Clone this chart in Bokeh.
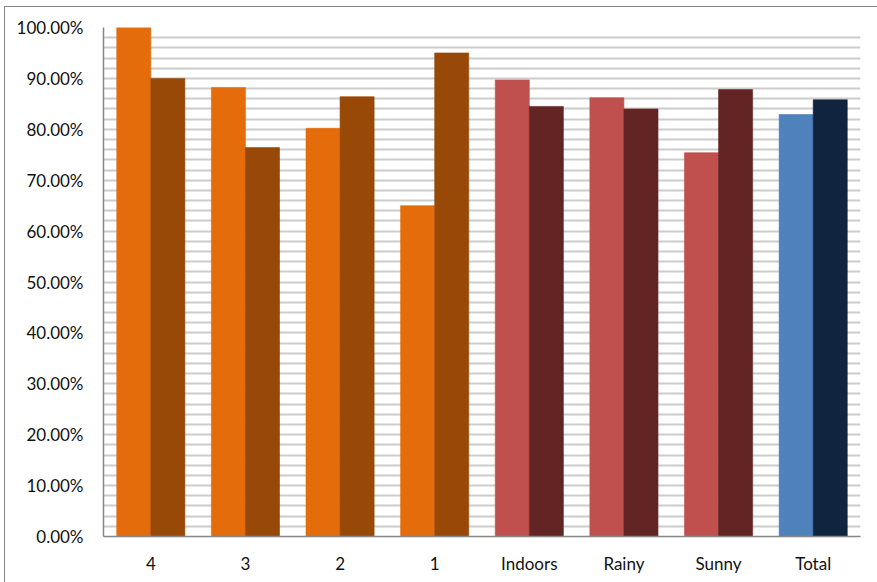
from bokeh.plotting import figure
from bokeh.models import FactorRange, Range1d, ColumnDataSource, FixedTicker, NumeralTickFormatter
from bokeh.transform import dodge
from bokeh.embed import file_html
from bokeh.resources import INLINE

categories = ["4", "3", "2", "1", "Indoors", "Rainy", "Sunny", "Total"]
series_a = [1.000, 0.882, 0.802, 0.650, 0.897, 0.862, 0.754, 0.829]
series_b = [0.900, 0.764, 0.864, 0.950, 0.845, 0.840, 0.878, 0.858]
colors_a = ["#E46C0A", "#E46C0A", "#E46C0A", "#E46C0A", "#C0504D", "#C0504D", "#C0504D", "#4F81BD"]
colors_b = ["#984807", "#984807", "#984807", "#984807", "#632523", "#632523", "#632523", "#10243F"]

src = ColumnDataSource(dict(cat=categories, a=series_a, b=series_b, ca=colors_a, cb=colors_b))

p = figure(width=873, height=576, x_range=FactorRange(factors=categories, range_padding=0),
           y_range=Range1d(0, 1.0), output_backend="svg", toolbar_location=None,
           min_border_left=98, min_border_right=18, min_border_top=20, min_border_bottom=47)
p.margin = (6, 0, 0, 4)
p.styles = {"border-left": "1px solid #868686", "border-top": "1px solid #868686"}

p.vbar(x=dodge("cat", -0.18, range=p.x_range), top="a", width=0.36, source=src,
       fill_color="ca", line_color="ca", line_alpha=0.6)
p.vbar(x=dodge("cat", 0.18, range=p.x_range), top="b", width=0.36, source=src,
       fill_color="cb", line_color="cb", line_alpha=0.6)

p.outline_line_color = None
p.xgrid.grid_line_color = None
p.ygrid.ticker = FixedTicker(ticks=[i * 0.02 for i in range(1, 51)])
p.ygrid.grid_line_color = "#cccccc"
p.ygrid.grid_line_width = 2
p.ygrid.level = "underlay"

p.yaxis.ticker = FixedTicker(ticks=[i * 0.1 for i in range(11)])
p.yaxis.formatter = NumeralTickFormatter(format="0.00%")
for ax in (p.xaxis[0], p.yaxis[0]):
    ax.axis_line_color = "#868686"
    ax.axis_line_width = 1.5
    ax.major_tick_line_color = None
    ax.minor_tick_line_color = None
    ax.major_label_text_font = "Lato"
    ax.major_label_text_font_size = "17px"
    ax.major_label_text_color = "#111111"
p.yaxis.major_label_standoff = 14
p.xaxis.major_label_standoff = 10

open("out.html", "w").write(file_html(p, INLINE))
